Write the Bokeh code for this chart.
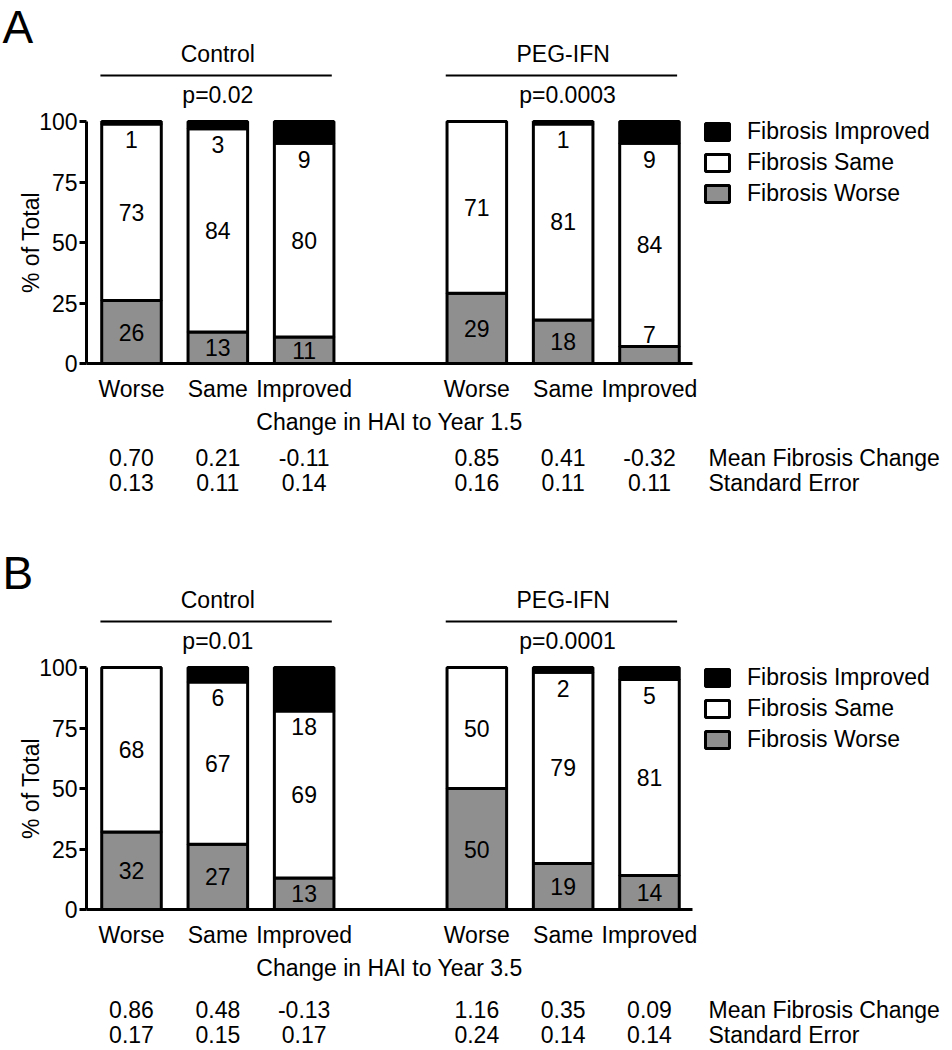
from bokeh.plotting import figure
from bokeh.models import (ColumnDataSource, Range1d, FixedTicker, Legend, LegendItem,
                          LinearAxis)
from bokeh.layouts import column
from bokeh.embed import file_html
from bokeh.resources import INLINE
from bokeh.core.properties import value

# ---------------- data ----------------
groups = ["Control", "PEG-IFN"]
categories = ["Worse", "Same", "Improved"]
series_names = ["Fibrosis Worse", "Fibrosis Same", "Fibrosis Improved"]
y_ticks = [0, 25, 50, 75, 100]
row_names = ["Mean Fibrosis Change", "Standard Error"]

panel_letters = ["A", "B"]
x_titles = ["Change in HAI to Year 1.5", "Change in HAI to Year 3.5"]

p_values_A = ["p=0.02", "p=0.0003"]
worse_A = [26, 13, 11, 29, 18, 7]
same_A = [73, 84, 80, 71, 81, 84]
improved_A = [1, 3, 9, 0, 1, 9]
mean_A = ["0.70", "0.21", "-0.11", "0.85", "0.41", "-0.32"]
se_A = ["0.13", "0.11", "0.14", "0.16", "0.11", "0.11"]

p_values_B = ["p=0.01", "p=0.0001"]
worse_B = [32, 27, 13, 50, 19, 14]
same_B = [68, 67, 69, 50, 79, 81]
improved_B = [0, 6, 18, 0, 2, 5]
mean_B = ["0.86", "0.48", "-0.13", "1.16", "0.35", "0.09"]
se_B = ["0.17", "0.15", "0.17", "0.24", "0.14", "0.14"]

# ---------------- layout / style ----------------
FONT_NAME = "Liberation Sans"
FONT = value(FONT_NAME)
FS = "23px"
W = 952
PX_U = 86.33      # px per bar slot
X0_PX = 131       # figure px of slot 0
PX_V = 2.42       # px per percent
Y0_PX = 363       # figure px of the 0 % line
GRAY = "#8f8f8f"


def ux(px):
    return (px - X0_PX) / PX_U


def vy(offset_px):
    # offset in px below (+) / above (-) the zero line
    return -offset_px / PX_V


n_cat = len(categories)
slots = [g * (n_cat + 1) + c for g in range(len(groups)) for c in range(n_cat)]
n_slots = len(groups) * (n_cat + 1) - 1
ax_lo, ax_hi = -0.52, n_slots - 0.5


def make_panel(letter, xtitle, pvals, worse, same, improved, mean, se, H, rows_off):
    p = figure(width=W, height=H,
               x_range=Range1d(ux(0), ux(W)),
               y_range=Range1d(-(H - Y0_PX) / PX_V, Y0_PX / PX_V),
               output_backend="svg", toolbar_location=None,
               x_axis_type=None, y_axis_type=None, min_border=0,
               outline_line_color=None, background_fill_color="white",
               border_fill_color="white")

    src = ColumnDataSource(dict(x=slots, worse=worse, same=same, improved=improved))
    rs = p.vbar_stack(["worse", "same", "improved"], x="x", width=0.69, source=src,
                      fill_color=[GRAY, "white", "black"], line_color="black",
                      line_width=3)

    # value labels inside bars
    lx, ly, lt = [], [], []
    for x, w, s, im in zip(slots, worse, same, improved):
        lx.append(x); ly.append(w / 2 if w >= 10 else w + 5); lt.append(str(w))
        lx.append(x); ly.append(w + s / 2); lt.append(str(s))
        if im > 0:
            lx.append(x); ly.append(w + s - 6.5); lt.append(str(im))
    p.text(x=lx, y=ly, text=lt, text_font=FONT, text_font_size=FS,
           text_align="center", text_baseline="middle", text_color="black")

    # y axis
    yax = LinearAxis(ticker=FixedTicker(ticks=y_ticks), bounds=(0, 100),
                     fixed_location=ax_lo, axis_label="% of Total",
                     axis_line_width=3, major_tick_line_width=3,
                     major_tick_out=7, major_tick_in=0, minor_tick_out=0,
                     minor_tick_in=0, major_label_standoff=2,
                     axis_label_standoff=-8,
                     major_label_text_font=FONT_NAME, major_label_text_font_size=FS,
                     axis_label_text_font=FONT_NAME, axis_label_text_font_size=FS,
                     axis_label_text_font_style="normal",
                     major_label_text_color="black", axis_label_text_color="black")
    p.add_layout(yax, "left")

    # x axis with category labels
    overrides = {x: categories[i % n_cat] for i, x in enumerate(slots)}
    xax = LinearAxis(ticker=FixedTicker(ticks=slots), bounds=(ax_lo, ax_hi),
                     fixed_location=0, axis_label=xtitle,
                     major_label_overrides=overrides,
                     axis_line_width=3, major_tick_out=0, major_tick_in=0,
                     minor_tick_out=0, minor_tick_in=0, major_label_standoff=12,
                     axis_label_standoff=4,
                     major_label_text_font=FONT_NAME, major_label_text_font_size=FS,
                     axis_label_text_font=FONT_NAME, axis_label_text_font_size=FS,
                     axis_label_text_font_style="normal",
                     major_label_text_color="black", axis_label_text_color="black")
    p.add_layout(xax, "below")

    # group headers
    gx, gtxt, ptxt, x0s, x1s = [], [], [], [], []
    for g, name in enumerate(groups):
        xs = slots[g * n_cat:(g + 1) * n_cat]
        gx.append(sum(xs) / len(xs))
        gtxt.append(name)
        ptxt.append(pvals[g])
        x0s.append(xs[0] - 0.36)
        x1s.append(xs[-1] + 0.32)
    p.text(x=gx, y=[vy(-310)] * len(gx), text=gtxt, text_font=FONT,
           text_font_size=FS, text_align="center", text_baseline="middle")
    p.text(x=[g + 0.05 * i for i, g in enumerate(gx)], y=[vy(-269)] * len(gx),
           text=ptxt, text_font=FONT,
           text_font_size=FS, text_align="center", text_baseline="middle")
    p.segment(x0=x0s, y0=[vy(-288)] * len(gx), x1=x1s, y1=[vy(-288)] * len(gx),
              line_color="black", line_width=2)

    # table rows
    for k, (vals, name) in enumerate(zip([mean, se], row_names)):
        yy = vy(rows_off[k])
        p.text(x=slots, y=[yy] * len(slots), text=vals, text_font=FONT,
               text_font_size=FS, text_align="center", text_baseline="middle")
        p.text(x=[ux(708)], y=[yy], text=[name], text_font=FONT,
               text_font_size=FS, text_align="left", text_baseline="middle")

    # panel letter
    p.text(x=[ux(2)], y=[vy(0 - Y0_PX)], text=[letter], text_font=FONT,
           text_font_size="46px", text_align="left", text_baseline="top")

    # legend
    items = [LegendItem(label=series_names[i], renderers=[rs[i]]) for i in (2, 1, 0)]
    leg = Legend(items=items, location=(702, H - 207), orientation="vertical",
                 glyph_width=30, glyph_height=21, label_standoff=15,
                 label_text_font=FONT_NAME, label_text_font_size=FS,
                 label_text_color="black", spacing=4, padding=0, margin=0,
                 border_line_alpha=0, background_fill_alpha=0)
    p.add_layout(leg, "center")
    return p


H_A, H_B = 546, 504
pA = make_panel(panel_letters[0], x_titles[0], p_values_A, worse_A, same_A,
                improved_A, mean_A, se_A, H_A, (94, 119))
pB = make_panel(panel_letters[1], x_titles[1], p_values_B, worse_B, same_B,
                improved_B, mean_B, se_B, H_B, (100, 125))

layout = column(pA, pB, spacing=0)
open("out.html", "w").write(file_html(layout, INLINE))
